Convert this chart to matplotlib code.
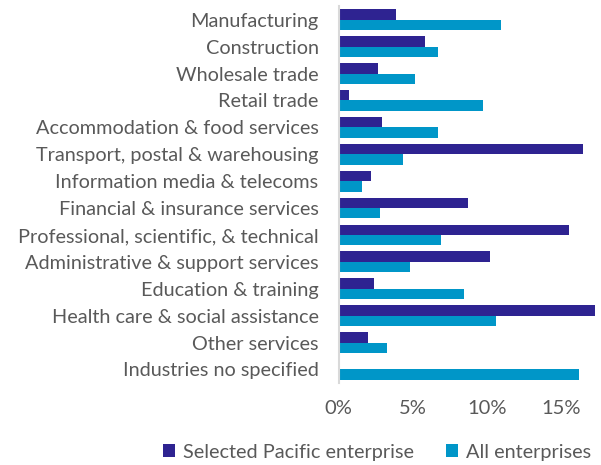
import matplotlib
matplotlib.use("Agg")
import matplotlib.pyplot as plt
import numpy as np
from matplotlib.ticker import FuncFormatter

categories = ["Manufacturing", "Construction", "Wholesale trade", "Retail trade",
              "Accommodation & food services", "Transport, postal & warehousing",
              "Information media & telecoms", "Financial & insurance services",
              "Professional, scientific, & technical", "Administrative & support services",
              "Education & training", "Health care & social assistance",
              "Other services", "Industries no specified"]
pacific = [3.85, 5.8, 2.67, 0.71, 2.9, 16.47, 2.2, 8.7, 15.53, 10.19, 2.42, 17.3, 1.97, 0.0]
all_ent = [10.98, 6.74, 5.17, 9.72, 6.74, 4.38, 1.57, 2.83, 6.9, 4.85, 8.46, 10.6, 3.3, 16.25]
xticks = [0, 5, 10, 15]

plt.rcParams['font.family'] = ['Lato', 'DejaVu Sans']

fig = plt.figure(figsize=(6.01, 4.65), dpi=100)
ax = fig.add_axes([338.5/601, 82.1/465, (598-338.5)/601, 376.6/465])

purple = '#2E2391'
blue = '#0096C8'
y = np.arange(len(categories))
h = 0.385
ax.barh(y - h/2, pacific, height=h, color=purple, label='Selected Pacific enterprise')
ax.barh(y + h/2, all_ent, height=h, color=blue, label='All enterprises')

ax.set_ylim(len(categories) - 0.5, -0.5)
ax.set_xlim(0, 17.5)
ax.set_yticks(y)
ax.set_yticklabels(categories, fontsize=14.3, color='#595959')
ax.set_xticks(xticks)
ax.xaxis.set_major_formatter(FuncFormatter(lambda v, p: f"{int(v)}%"))
ax.tick_params(axis='x', labelsize=14.5, colors='#595959', length=0, pad=12)
ax.tick_params(axis='y', length=0, pad=14.4)
for s in ['top', 'right', 'bottom']:
    ax.spines[s].set_visible(False)
ax.spines['left'].set_color('#D9D9D9')
ax.spines['left'].set_linewidth(1.5)

fig.legend(loc='center', bbox_to_anchor=(377/601, 1 - 452/465), ncol=2, frameon=False,
           fontsize=14.3, handlelength=0.6, handleheight=0.6, columnspacing=1.6,
           handletextpad=0.4, labelcolor='#595959')

fig.savefig('out.png', dpi=100)
